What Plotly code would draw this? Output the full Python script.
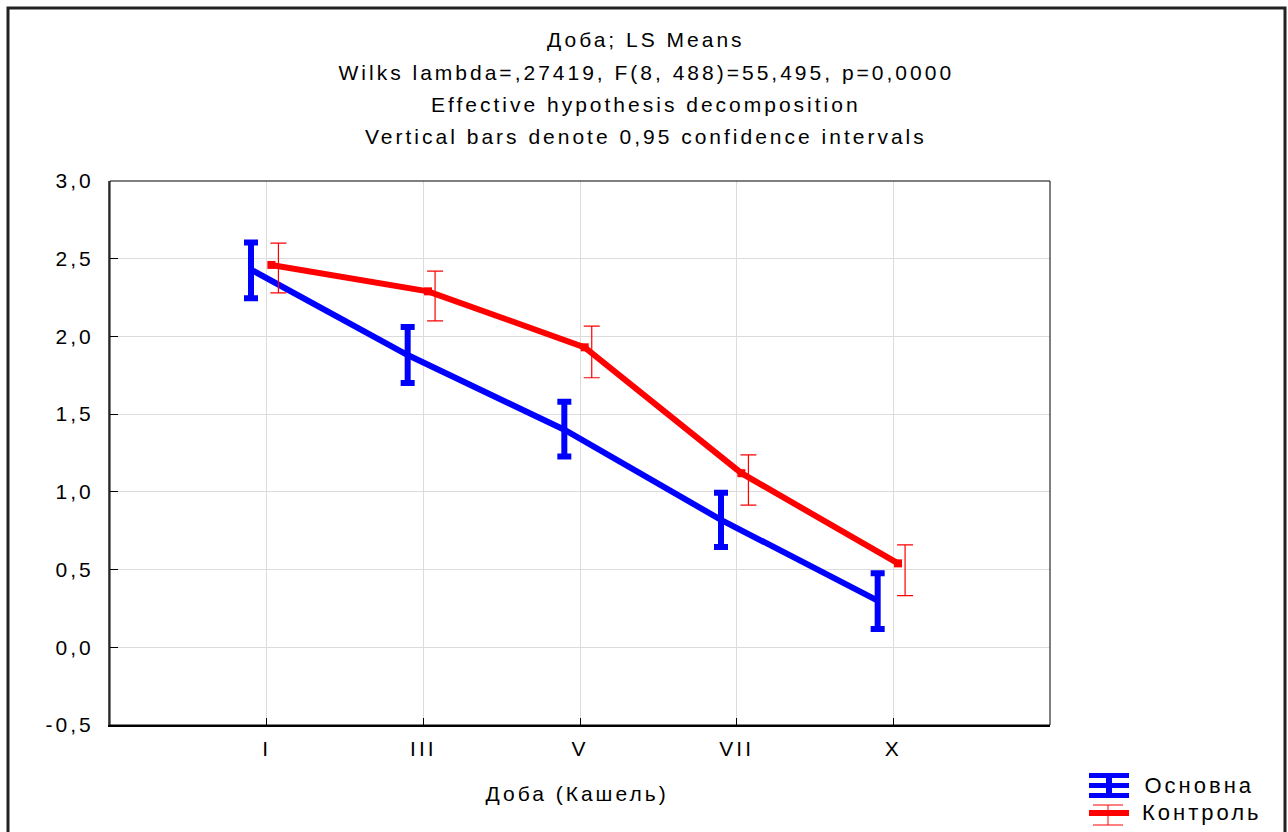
import plotly.graph_objects as go

# Days of observation (cough) and LS means with 0.95 confidence limits
days = ["I", "III", "V", "VII", "X"]

main_mean = [2.43, 1.88, 1.40, 0.82, 0.30]
main_low = [2.245, 1.70, 1.227, 0.645, 0.118]
main_high = [2.605, 2.06, 1.58, 0.995, 0.476]

ctrl_mean = [2.46, 2.29, 1.93, 1.12, 0.54]
ctrl_low = [2.28, 2.10, 1.734, 0.914, 0.332]
ctrl_high = [2.60, 2.42, 2.066, 1.238, 0.659]

title_lines = [
    "Доба; LS Means",
    "Wilks lambda=,27419, F(8, 488)=55,495, p=0,0000",
    "Effective hypothesis decomposition",
    "Vertical bars denote 0,95 confidence intervals",
]
y_ticks = [-0.5, 0.0, 0.5, 1.0, 1.5, 2.0, 2.5, 3.0]
y_tick_text = ["-0,5", "0,0", "0,5", "1,0", "1,5", "2,0", "2,5", "3,0"]

W, H = 1288, 832
ML, MR, MT, MB = 110, 238, 181, 107
PW, PH = W - ML - MR, H - MT - MB
FONT = "Liberation Sans, Arial, sans-serif"
FS = 21


def px_x(px):
    return (px - ML) / PW


def px_y(py):
    return (H - MB - py) / PH


pos = list(range(len(days)))
main_x = [p - 0.1 for p in pos]
ctrl_line_x = [p + 0.03 for p in pos]
ctrl_bar_x = [p + 0.075 for p in pos]

BLUE = "#0000ff"
RED = "#ff0000"

fig = go.Figure()

# Main group: thick line with heavy error bars
fig.add_trace(go.Scatter(
    x=main_x, y=main_mean, mode="lines",
    line=dict(color=BLUE, width=6),
    error_y=dict(type="data", symmetric=False,
                 array=[h - m for h, m in zip(main_high, main_mean)],
                 arrayminus=[m - l for m, l in zip(main_mean, main_low)],
                 color=BLUE, thickness=6, width=7),
    name="Основна", showlegend=False,
))

# Control group: thick line, thin error bars drawn slightly to the right
fig.add_trace(go.Scatter(
    x=ctrl_line_x, y=ctrl_mean, mode="lines+markers",
    line=dict(color=RED, width=6),
    marker=dict(symbol="square", size=8, color=RED),
    name="Контроль", showlegend=False,
))
ctrl_mid = [(h + l) / 2 for h, l in zip(ctrl_high, ctrl_low)]
fig.add_trace(go.Scatter(
    x=ctrl_bar_x, y=ctrl_mid, mode="markers",
    marker=dict(size=1, color="rgba(0,0,0,0)"),
    error_y=dict(type="data", symmetric=False,
                 array=[h - m for h, m in zip(ctrl_high, ctrl_mid)],
                 arrayminus=[m - l for m, l in zip(ctrl_mid, ctrl_low)],
                 color=RED, thickness=1.2, width=8),
    showlegend=False, hoverinfo="skip",
))

annotations = []
for i, t in enumerate(title_lines):
    annotations.append(dict(
        text=t, xref="paper", yref="paper",
        x=px_x(646), y=px_y(40 + i * 32.3),
        xanchor="center", yanchor="middle", showarrow=False,
        font=dict(family=FONT, size=FS, color="black"),
    ))

annotations.append(dict(
    text="Доба (Кашель)", xref="paper", yref="paper",
    x=px_x(577), y=px_y(793), xanchor="center", yanchor="middle",
    showarrow=False, font=dict(family=FONT, size=FS, color="black"),
))

# Legend entries
for label, cx, cy in (("Основна", 1199, 785), ("Контроль", 1202, 812)):
    annotations.append(dict(
        text=label, xref="paper", yref="paper",
        x=px_x(cx), y=px_y(cy), xanchor="center", yanchor="middle",
        showarrow=False, font=dict(family=FONT, size=22, color="black"),
    ))

shapes = []


def hline(x0, x1, y, color, width):
    shapes.append(dict(type="line", xref="paper", yref="paper",
                       x0=px_x(x0), x1=px_x(x1), y0=px_y(y), y1=px_y(y),
                       line=dict(color=color, width=width)))


def vline(x, y0, y1, color, width):
    shapes.append(dict(type="line", xref="paper", yref="paper",
                       x0=px_x(x), x1=px_x(x), y0=px_y(y0), y1=px_y(y1),
                       line=dict(color=color, width=width)))


# legend icon: heavy blue bar
hline(1089, 1129, 775.5, BLUE, 5)
hline(1089, 1129, 785.5, BLUE, 5)
hline(1089, 1129, 795.5, BLUE, 5)
vline(1109, 775, 796, BLUE, 6)
# legend icon: thin red bar
hline(1093, 1123, 805, RED, 1)
hline(1089, 1129, 813, RED, 6)
hline(1093, 1123, 825, RED, 1)
vline(1108, 805, 825, RED, 1)

# outer frame around the whole graph
shapes.append(dict(type="rect", xref="paper", yref="paper",
                   x0=px_x(8), x1=px_x(1285), y0=px_y(8), y1=px_y(845),
                   line=dict(color="#222222", width=3), layer="below"))
# plot box
shapes.append(dict(type="rect", xref="paper", yref="paper",
                   x0=0, x1=1, y0=0, y1=1,
                   line=dict(color="black", width=1), layer="above"))

fig.update_layout(
    width=W, height=H,
    margin=dict(l=ML, r=MR, t=MT, b=MB),
    paper_bgcolor="white", plot_bgcolor="white",
    font=dict(family=FONT, size=FS, color="black"),
    showlegend=False,
    annotations=annotations, shapes=shapes,
    xaxis=dict(
        range=[-1, 5], tickmode="array", tickvals=pos, ticktext=days,
        showgrid=True, gridcolor="#dcdcdc", gridwidth=1,
        ticks="inside", ticklen=7, tickcolor="black",
        showline=True, linecolor="black", linewidth=2,
        zeroline=False, ticklabelstandoff=4,
        tickfont=dict(family=FONT, size=FS),
    ),
    yaxis=dict(
        range=[-0.5, 3.0], tickmode="array", tickvals=y_ticks,
        ticktext=y_tick_text,
        showgrid=True, gridcolor="#dcdcdc", gridwidth=1,
        ticks="inside", ticklen=8, tickcolor="black",
        showline=True, linecolor="#555555", linewidth=2,
        zeroline=False, ticklabelstandoff=10,
        tickfont=dict(family=FONT, size=FS),
    ),
)

# Wider character spacing for all chart text
spacing_js = """
var gd = document.getElementById('{plot_id}');
function widenText() {
  gd.querySelectorAll('text').forEach(function (t) {
    t.style.letterSpacing = '3px';
  });
}
widenText();
gd.on('plotly_afterplot', widenText);
"""

fig.write_html("out.html", post_script=spacing_js)
